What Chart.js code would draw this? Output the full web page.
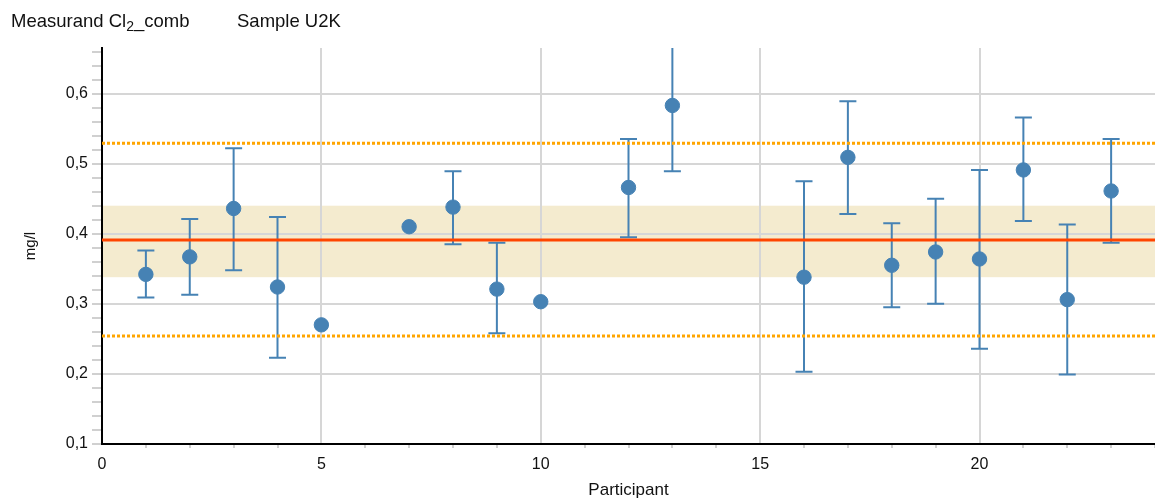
<!DOCTYPE html>
<html>
<head>
<meta charset="utf-8">
<script src="https://cdn.jsdelivr.net/npm/chart.js@4/dist/chart.umd.min.js"></script>
<style>
  html, body { margin: 0; padding: 0; background: #fff; }
  #wrap { position: relative; width: 1155px; height: 502px; }
  #c { position: absolute; left: 0; top: 0; }
  .ttl { position: absolute; top: 11px; font: 18.5px "Liberation Sans", Arial, sans-serif; line-height: 20px; color: #111; white-space: nowrap; }
  .ttl sub { font-size: 14px; vertical-align: -4px; line-height: 0; }
</style>
</head>
<body>
<div id="wrap">
  <canvas id="c" width="1155" height="502"></canvas>
  <div class="ttl" style="left:11px">Measurand Cl<sub>2</sub>_comb</div>
  <div class="ttl" style="left:237px">Sample U2K</div>
</div>
<script>
// ---- data ----
const participants = [1, 2, 3, 4, 5, 7, 8, 9, 10, 12, 13, 16, 17, 18, 19, 20, 21, 22, 23];
const values       = [0.342, 0.367, 0.436, 0.324, 0.270, 0.410, 0.438, 0.321, 0.303, 0.466, 0.583, 0.338, 0.509, 0.355, 0.374, 0.364, 0.491, 0.306, 0.461];
const upperErr     = [0.376, 0.421, 0.522, 0.424, null, null, 0.489, 0.387, null, 0.535, 0.678, 0.475, 0.589, 0.415, 0.450, 0.491, 0.566, 0.413, 0.535];
const lowerErr     = [0.309, 0.313, 0.348, 0.223, null, null, 0.385, 0.258, null, 0.395, 0.489, 0.203, 0.428, 0.295, 0.300, 0.236, 0.418, 0.199, 0.387];
const assignedValue = 0.391;
const bandRange  = [0.338, 0.440];
const limitRange = [0.254, 0.529];
const xRange = [0, 24];
const yRange = [0.1, 0.665];
const yTickValues = [0.10,0.12,0.14,0.16,0.18,0.20,0.22,0.24,0.26,0.28,0.30,0.32,0.34,0.36,0.38,0.40,0.42,0.44,0.46,0.48,0.50,0.52,0.54,0.56,0.58,0.60,0.62,0.64,0.66];

const FONT = "'Liberation Sans', Arial, sans-serif";
const BLUE = '#4682B4';

const isMajorY = v => Math.abs(v * 10 - Math.round(v * 10)) < 1e-6;
const isMajorX = v => Math.round(v) % 5 === 0;

const bandPlugin = {
  id: 'band',
  beforeDraw(chart) {
    const {ctx, chartArea: a, scales: {x, y}} = chart;
    const top = y.getPixelForValue(bandRange[1]);
    const bot = y.getPixelForValue(bandRange[0]);
    ctx.save();
    ctx.fillStyle = '#F4EBCF';
    ctx.fillRect(a.left, top, a.right - a.left, bot - top);
    ctx.restore();
  }
};

const errorBarPlugin = {
  id: 'errbars',
  beforeDatasetsDraw(chart) {
    const {ctx, chartArea: a, scales: {x, y}} = chart;
    ctx.save();
    ctx.beginPath();
    ctx.rect(a.left, a.top, a.right - a.left, a.bottom - a.top);
    ctx.clip();
    ctx.strokeStyle = BLUE;
    ctx.lineWidth = 2;
    participants.forEach((p, i) => {
      if (upperErr[i] == null || lowerErr[i] == null) return;
      const px = x.getPixelForValue(p);
      const yt = y.getPixelForValue(upperErr[i]);
      const yb = y.getPixelForValue(lowerErr[i]);
      ctx.beginPath();
      ctx.moveTo(px, yt); ctx.lineTo(px, yb);
      ctx.moveTo(px - 8.5, yt); ctx.lineTo(px + 8.5, yt);
      ctx.moveTo(px - 8.5, yb); ctx.lineTo(px + 8.5, yb);
      ctx.stroke();
    });
    ctx.restore();
  }
};

const hLine = v => [{x: xRange[0], y: v}, {x: xRange[1], y: v}];

new Chart(document.getElementById('c'), {
  type: 'scatter',
  data: {
    datasets: [
      {
        label: 'Results',
        data: participants.map((p, i) => ({x: p, y: values[i]})),
        backgroundColor: BLUE,
        borderColor: BLUE,
        borderWidth: 1,
        pointRadius: 7.2,
        pointHoverRadius: 7.2,
        order: 0
      },
      {
        type: 'line', label: 'Assigned value', data: hLine(assignedValue),
        borderColor: '#FF4500', borderWidth: 3, pointRadius: 0, order: 1
      },
      {
        type: 'line', label: 'Upper limit', data: hLine(limitRange[1]),
        borderColor: '#FFA500', borderWidth: 3, borderDash: [3, 2], pointRadius: 0, order: 2
      },
      {
        type: 'line', label: 'Lower limit', data: hLine(limitRange[0]),
        borderColor: '#FFA500', borderWidth: 3, borderDash: [3, 2], pointRadius: 0, order: 2
      }
    ]
  },
  options: {
    responsive: false,
    animation: false,
    events: [],
    layout: { autoPadding: false, padding: { top: 48, right: 0, left: 0, bottom: 0 } },
    plugins: { legend: { display: false }, tooltip: { enabled: false }, title: { display: false } },
    scales: {
      x: {
        type: 'linear',
        min: xRange[0], max: xRange[1],
        afterFit(s) { s.height = 58; s.paddingRight = 0; s.paddingLeft = 0; },
        ticks: {
          stepSize: 1, autoSkip: false, maxRotation: 0, padding: 7,
          color: '#111', font: { family: FONT, size: 16 },
          callback: v => isMajorX(v) ? String(v) : ''
        },
        grid: {
          lineWidth: 2, tickLength: 4, tickWidth: 2,
          color: c => (c.tick && isMajorX(c.tick.value)) ? '#d6d6d6' : 'rgba(0,0,0,0)',
          tickColor: c => (c.tick && isMajorX(c.tick.value)) ? 'rgba(0,0,0,0)' : '#d0d0d0'
        },
        border: { display: true, color: '#000', width: 2 },
        title: { display: true, text: 'Participant', color: '#111', font: { family: FONT, size: 17 }, padding: { top: 0, bottom: 1 } }
      },
      y: {
        type: 'linear',
        min: yRange[0], max: yRange[1],
        afterFit(s) { s.width = 102; s.paddingTop = 0; s.paddingBottom = 0; },
        afterBuildTicks(s) { s.ticks = yTickValues.map(v => ({ value: v })); },
        ticks: {
          autoSkip: false, padding: 4,
          color: '#111', font: { family: FONT, size: 16 },
          callback: v => isMajorY(v) ? v.toFixed(1).replace('.', ',') : ''
        },
        grid: {
          lineWidth: 2, tickLength: 10, tickWidth: 2,
          color: c => (c.tick && isMajorY(c.tick.value)) ? '#d6d6d6' : 'rgba(0,0,0,0)',
          tickColor: '#d0d0d0'
        },
        border: { display: true, color: '#000', width: 2 },
        title: { display: true, text: 'mg/l', color: '#111', font: { family: FONT, size: 15 }, padding: { top: 22, bottom: 0 } }
      }
    }
  },
  plugins: [bandPlugin, errorBarPlugin]
});
</script>
</body>
</html>
